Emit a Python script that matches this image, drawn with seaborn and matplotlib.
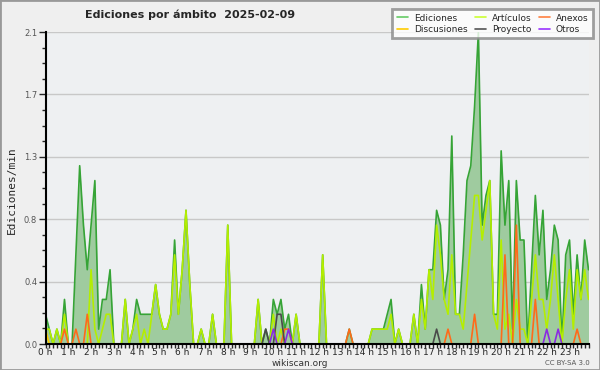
import matplotlib
matplotlib.use("Agg")
import matplotlib.pyplot as plt
import numpy as np
import pandas as pd
import seaborn as sns
from matplotlib.lines import Line2D
from matplotlib.patches import Rectangle

# edits per minute, one value per 10 minute slot (144 slots, 00:00 -> 23:50)
ediciones = [
    0.2, 0.1, 0.0, 0.1, 0.0, 0.3, 0.0, 0.0, 0.6, 1.2, 0.8, 0.5,
    0.8, 1.1, 0.1, 0.3, 0.3, 0.5, 0.0, 0.0, 0.0, 0.3, 0.0, 0.1,
    0.3, 0.2, 0.2, 0.2, 0.2, 0.4, 0.2, 0.1, 0.1, 0.2, 0.7, 0.2,
    0.5, 0.9, 0.4, 0.0, 0.0, 0.1, 0.0, 0.0, 0.2, 0.0, 0.0, 0.0,
    0.8, 0.0, 0.0, 0.0, 0.0, 0.0, 0.0, 0.0, 0.3, 0.0, 0.1, 0.0,
    0.3, 0.2, 0.3, 0.1, 0.2, 0.0, 0.2, 0.0, 0.0, 0.0, 0.0, 0.0,
    0.0, 0.6, 0.0, 0.0, 0.0, 0.0, 0.0, 0.0, 0.1, 0.0, 0.0, 0.0,
    0.0, 0.0, 0.1, 0.1, 0.1, 0.1, 0.2, 0.3, 0.0, 0.1, 0.0, 0.0,
    0.0, 0.2, 0.0, 0.4, 0.1, 0.5, 0.5, 0.9, 0.8, 0.3, 0.5, 1.4,
    0.2, 0.2, 0.6, 1.1, 1.2, 1.6, 2.1, 0.8, 1.0, 1.1, 0.2, 0.2,
    1.3, 0.8, 1.1, 0.1, 1.1, 0.7, 0.7, 0.0, 0.5, 1.0, 0.6, 0.9,
    0.3, 0.5, 0.8, 0.7, 0.0, 0.6, 0.7, 0.2, 0.6, 0.3, 0.7, 0.5,
]
articulos = [
    0.1, 0.1, 0.0, 0.1, 0.0, 0.2, 0.0, 0.0, 0.0, 0.0, 0.0, 0.0,
    0.5, 0.1, 0.0, 0.1, 0.2, 0.2, 0.0, 0.0, 0.0, 0.3, 0.0, 0.1,
    0.2, 0.0, 0.1, 0.0, 0.2, 0.4, 0.2, 0.1, 0.1, 0.2, 0.6, 0.2,
    0.5, 0.9, 0.4, 0.0, 0.0, 0.1, 0.0, 0.0, 0.2, 0.0, 0.0, 0.0,
    0.8, 0.0, 0.0, 0.0, 0.0, 0.0, 0.0, 0.0, 0.3, 0.0, 0.0, 0.0,
    0.2, 0.0, 0.1, 0.0, 0.0, 0.0, 0.2, 0.0, 0.0, 0.0, 0.0, 0.0,
    0.0, 0.6, 0.0, 0.0, 0.0, 0.0, 0.0, 0.0, 0.0, 0.0, 0.0, 0.0,
    0.0, 0.0, 0.1, 0.1, 0.1, 0.1, 0.1, 0.2, 0.0, 0.1, 0.0, 0.0,
    0.0, 0.2, 0.0, 0.3, 0.1, 0.5, 0.3, 0.8, 0.6, 0.3, 0.2, 0.6,
    0.2, 0.2, 0.1, 0.4, 0.7, 1.0, 1.0, 0.7, 0.9, 1.1, 0.2, 0.1,
    0.7, 0.1, 0.2, 0.0, 0.3, 0.1, 0.1, 0.0, 0.3, 0.6, 0.3, 0.3,
    0.1, 0.3, 0.6, 0.3, 0.0, 0.3, 0.5, 0.1, 0.5, 0.3, 0.5, 0.3,
]
anexos = [
    0.0, 0.0, 0.0, 0.0, 0.0, 0.1, 0.0, 0.0, 0.1, 0.0, 0.0, 0.2,
    0.0, 0.0, 0.0, 0.0, 0.0, 0.0, 0.0, 0.0, 0.0, 0.0, 0.0, 0.0,
    0.0, 0.0, 0.0, 0.0, 0.0, 0.0, 0.0, 0.0, 0.0, 0.0, 0.0, 0.0,
    0.0, 0.0, 0.0, 0.0, 0.0, 0.0, 0.0, 0.0, 0.0, 0.0, 0.0, 0.0,
    0.0, 0.0, 0.0, 0.0, 0.0, 0.0, 0.0, 0.0, 0.0, 0.0, 0.0, 0.0,
    0.0, 0.0, 0.0, 0.1, 0.1, 0.0, 0.0, 0.0, 0.0, 0.0, 0.0, 0.0,
    0.0, 0.0, 0.0, 0.0, 0.0, 0.0, 0.0, 0.0, 0.1, 0.0, 0.0, 0.0,
    0.0, 0.0, 0.0, 0.0, 0.0, 0.0, 0.0, 0.0, 0.0, 0.0, 0.0, 0.0,
    0.0, 0.0, 0.0, 0.0, 0.0, 0.0, 0.0, 0.0, 0.0, 0.0, 0.1, 0.0,
    0.0, 0.0, 0.0, 0.0, 0.0, 0.2, 0.0, 0.0, 0.0, 0.0, 0.0, 0.0,
    0.0, 0.6, 0.0, 0.0, 0.8, 0.0, 0.0, 0.0, 0.0, 0.3, 0.0, 0.0,
    0.0, 0.0, 0.0, 0.0, 0.0, 0.0, 0.0, 0.0, 0.1, 0.0, 0.0, 0.0,
]
discusiones = [0.1] + [0.0] * 143
proyecto = [0.0] * 144
otros = [0.0] * 144
# sparse series: slot -> value
proyecto_vals = {58: 0.1, 61: 0.2, 62: 0.2, 103: 0.1}
otros_vals = {60: 0.1, 64: 0.1, 132: 0.1, 135: 0.1}
for k, v in proyecto_vals.items():
    proyecto[k] = v
for k, v in otros_vals.items():
    otros[k] = v

hours = np.arange(144) / 6.0
names = ['Ediciones', 'Artículos', 'Anexos', 'Discusiones', 'Proyecto', 'Otros']
line_cols = ['#36a436', '#b4ee00', '#ff6a1a', '#ffcc00', '#4a4a4a', '#8a2be2']
leg_cols = ['#66cc66', '#ccff33', '#ff8040', '#ffcc00', '#555555', '#9933ff']

df = pd.DataFrame({'h': hours, 'Ediciones': ediciones, 'Artículos': articulos,
                   'Anexos': anexos, 'Discusiones': discusiones,
                   'Proyecto': proyecto, 'Otros': otros})
long = df.melt(id_vars='h', var_name='serie', value_name='v')

sns.set_style('white')
plt.rcParams['font.family'] = ['DejaVu Sans']

fig = plt.figure(figsize=(6, 3.7), dpi=100, facecolor='#efefef')
ax = fig.add_axes([45.5 / 600, 26 / 370, 543 / 600, 312 / 370])
ax.set_facecolor('#eef0f2')

ax.fill_between(df['h'], df['Ediciones'], color='#9fcb9f', lw=0, zorder=1)
sns.lineplot(data=long, x='h', y='v', hue='serie', hue_order=names,
             palette=dict(zip(names, line_cols)), lw=1.2, legend=False, ax=ax)

ax.set_xlim(0, 143 / 6)
ax.set_ylim(0, 2.1)
yt = np.linspace(0, 2.1, 6)
ax.set_yticks(yt)
ax.set_yticklabels([f'{t:.1f}' for t in yt])
ax.set_yticks(np.linspace(0, 2.1, 21), minor=True)
ax.set_xticks(np.arange(24))
ax.set_xticklabels([f'{h} h' for h in range(24)])
ax.set_xticks(np.arange(0, 143 / 6 + 0.01, 1 / 6), minor=True)
ax.grid(axis='y', which='major', color='#c8c8c8', lw=1)
ax.set_axisbelow(True)

for s in ['top', 'right']:
    ax.spines[s].set_visible(False)
for s in ['left', 'bottom']:
    ax.spines[s].set_color('black')
    ax.spines[s].set_linewidth(1.5)
    ax.spines[s].set_zorder(5)

ax.tick_params(axis='y', which='major', length=5, width=1, labelsize=6,
               labelcolor='#555555', pad=1, left=True)
ax.tick_params(axis='y', which='minor', length=3, width=1, left=True)
ax.tick_params(axis='x', which='major', length=3, width=1, labelsize=6.5,
               pad=0, bottom=True)
ax.tick_params(axis='x', which='minor', length=3, width=1, bottom=True)
ax.set_xlabel('')
ax.set_ylabel('')

fig.text(12 / 600, 1 - 190 / 370, 'Ediciones/min', rotation=90, ha='center',
         va='center', fontsize=8, family='DejaVu Sans Mono')
fig.text(85 / 600, 1 - 15 / 370, 'Ediciones por ámbito  2025-02-09',
         ha='left', va='center', fontsize=8, fontweight='bold')
fig.text(300 / 600, 1 - 363 / 370, 'wikiscan.org', ha='center', va='center',
         fontsize=6.5, color='#333333')
fig.text(590 / 600, 1 - 363 / 370, 'CC BY-SA 3.0', ha='right', va='center',
         fontsize=5, color='#555555')

order = [0, 3, 1, 4, 2, 5]
handles = [Line2D([], [], color=leg_cols[i], lw=1.2) for i in order]
labels = [names[i] for i in order]
lgd = fig.legend(handles, labels, ncol=3, loc='upper right',
                 bbox_to_anchor=(593 / 600, 1 - 9 / 370), fontsize=6.5,
                 frameon=True, fancybox=False, handlelength=1.3,
                 handletextpad=0.6, columnspacing=0.8, borderpad=0.5,
                 labelspacing=0.25, borderaxespad=0)
lgd.get_frame().set_edgecolor('#888888')
lgd.get_frame().set_linewidth(2)
lgd.get_frame().set_facecolor('white')

fig.patches.append(Rectangle((0, 0), 1, 1, transform=fig.transFigure,
                             fill=False, edgecolor='#999999', lw=2))

fig.savefig('out.png', dpi=100, facecolor=fig.get_facecolor())
